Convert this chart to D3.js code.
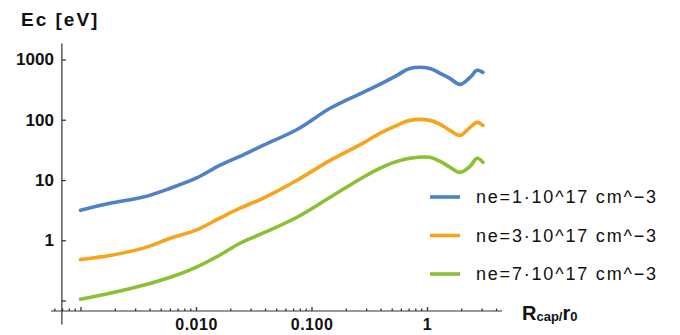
<!DOCTYPE html>
<html>
<head>
<meta charset="utf-8">
<script src="https://cdn.jsdelivr.net/npm/d3@7"></script>
<style>
  body { margin: 0; background: #fff; }
  svg { display: block; font-family: "Liberation Sans", Arial, sans-serif; }
</style>
</head>
<body>
<svg id="chart" width="680" height="335"></svg>
<script>
// R_cap / r0 sample positions (shared by all series)
const rcap = [0.001, 0.0018, 0.0035, 0.006, 0.01, 0.016, 0.024, 0.038, 0.075, 0.145,
  0.28, 0.39, 0.55, 0.71, 1.06, 1.3, 1.58, 1.93, 2.36, 2.71, 3.05];

// Ec [eV] for each electron density
const ec_ne1 = [3.15, 4.1, 5.2, 7.3, 10.7, 17.5, 24.7, 37.6, 69, 155,
  285, 386, 545, 711, 711, 588, 486, 386, 505, 660, 611];
const ec_ne3 = [0.48, 0.56, 0.74, 1.08, 1.47, 2.32, 3.4, 4.97, 9.9, 21.2,
  41, 59.5, 80.7, 97.7, 97.7, 84, 66.7, 55.1, 74.8, 90.5, 80.7];
const ec_ne7 = [0.105, 0.132, 0.179, 0.243, 0.356, 0.564, 0.892, 1.31, 2.41, 5.17,
  11.1, 15.6, 20.4, 22.9, 23.8, 20.4, 16.3, 13.4, 16.9, 22.9, 19.7];

const seriesNames = ["ne=1·10^17 cm^−3", "ne=3·10^17 cm^−3", "ne=7·10^17 cm^−3"];
const colors = ["#4f81c8", "#f7a31c", "#8cbf33"];

const yTickValues = [0.1, 1, 10, 100, 1000];
const yTickLabels = ["", "1", "10", "100", "1000"];
const xTickValues = [0.001, 0.01, 0.1, 1];
const xTickLabels = ["", "0.010", "0.100", "1"];

// axis extents / crossing point (Mathematica-style axes)
const xExtent = [0.000556, 4.46];
const yExtent = [0.04, 1850];
const crossX = 0.00069, crossY = 0.067;

const svg = d3.select("#chart");

const x = d3.scaleLog().domain([0.001, 1]).range([80.5, 427]);
const y = d3.scaleLog().domain([0.1, 1000]).range([300.5, 59.5]);

// axes lines
svg.append("line")
  .attr("x1", x(xExtent[0])).attr("x2", x(xExtent[1]))
  .attr("y1", y(crossY)).attr("y2", y(crossY))
  .attr("stroke", "#333").attr("stroke-width", 1.2);
svg.append("line")
  .attr("x1", x(crossX)).attr("x2", x(crossX))
  .attr("y1", y(yExtent[0])).attr("y2", y(yExtent[1]))
  .attr("stroke", "#333").attr("stroke-width", 1.2);

// x minor ticks
var minor = [];
for (let e = -4; e <= 0; e++) {
  for (let m = 2; m <= 9; m++) {
    let v = m * Math.pow(10, e);
    if (v > xExtent[0] && v < xExtent[1]) minor.push(v);
  }
}
svg.append("g").selectAll("line.minor")
  .data(minor).enter().append("line")
  .attr("x1", d => x(d)).attr("x2", d => x(d))
  .attr("y1", y(crossY)).attr("y2", y(crossY) - 2.5)
  .attr("stroke", "#333").attr("stroke-width", 1.3);

// x major ticks + labels
const xAxis = svg.append("g")
  .attr("transform", "translate(0," + y(crossY) + ")")
  .call(d3.axisBottom(x).tickValues(xTickValues).tickSize(-4).tickPadding(8)
    .tickFormat((d, i) => xTickLabels[i]));
xAxis.select(".domain").remove();
xAxis.selectAll(".tick line").attr("stroke", "#333").attr("stroke-width", 1.3);
xAxis.selectAll("text")
  .attr("fill", "#111").style("font-size", "16px").style("font-weight", "bold")
  .style("letter-spacing", "0.5px");

// y ticks + labels
const yAxis = svg.append("g")
  .attr("transform", "translate(" + x(crossX) + ",0)")
  .call(d3.axisLeft(y).tickValues(yTickValues).tickSize(-4).tickPadding(8)
    .tickFormat((d, i) => yTickLabels[i]));
yAxis.select(".domain").remove();
yAxis.selectAll(".tick line").attr("stroke", "#333").attr("stroke-width", 1.3);
yAxis.selectAll("text")
  .attr("fill", "#111").style("font-size", "17px").style("font-weight", "bold");

// curves
const allSeries = [ec_ne1, ec_ne3, ec_ne7];
const line = d3.line()
  .x((d, i) => x(rcap[i]))
  .y(d => y(d))
  .curve(d3.curveCatmullRom.alpha(0.5));

svg.append("g").selectAll("path.curve")
  .data(allSeries).enter().append("path")
  .attr("d", line)
  .attr("fill", "none")
  .attr("stroke", (d, i) => colors[i])
  .attr("stroke-width", 3.6)
  .attr("stroke-linejoin", "round")
  .attr("stroke-linecap", "round");

// legend
const legend = svg.append("g").selectAll("g")
  .data(seriesNames).enter().append("g")
  .attr("transform", (d, i) => "translate(430," + (197 + i * 38.5) + ")");
legend.append("line")
  .attr("x1", 0).attr("x2", 30)
  .attr("stroke", (d, i) => colors[i])
  .attr("stroke-width", 3.6);
legend.append("text")
  .attr("x", 46).attr("dy", "0.35em")
  .style("font-size", "18px").style("letter-spacing", "1.8px")
  .attr("fill", "#111")
  .text(d => d);

// axis titles
svg.append("text")
  .attr("x", 21).attr("y", 26)
  .style("font-size", "19px").style("font-weight", "bold").style("letter-spacing", "2px")
  .attr("fill", "#111")
  .text("Ec [eV]");

const xt = svg.append("text")
  .attr("x", 522).attr("y", 320)
  .attr("fill", "#111").style("font-weight", "bold");
xt.append("tspan").style("font-size", "20px").text("R");
xt.append("tspan").style("font-size", "13px").attr("dy", 1).text("cap/");
xt.append("tspan").style("font-size", "20px").attr("dy", -1).text("r");
xt.append("tspan").style("font-size", "13px").attr("dy", 1).text("0");
</script>
</body>
</html>
